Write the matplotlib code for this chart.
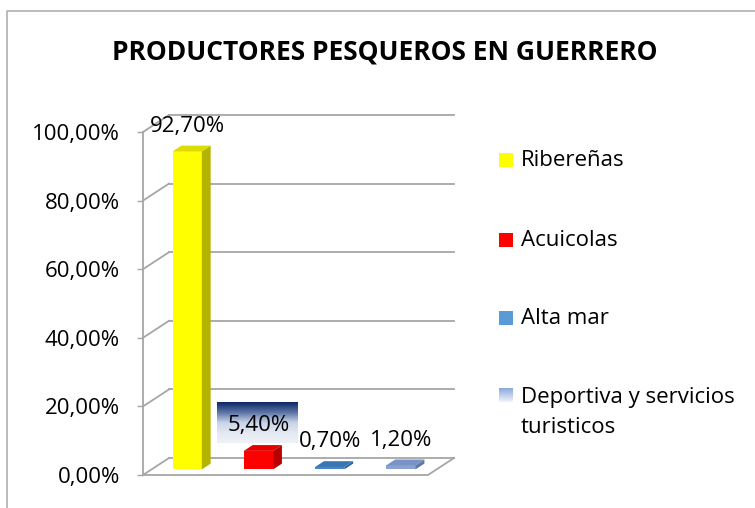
import matplotlib.pyplot as plt
import numpy as np
from matplotlib.colors import LinearSegmentedColormap
from matplotlib.lines import Line2D
from matplotlib.ticker import FuncFormatter

plt.rcParams["font.family"] = "Open Sans"
plt.rcParams["font.size"] = 16

title = 'PRODUCTORES PESQUEROS EN GUERRERO'
categories = ['Ribereñas', 'Acuicolas', 'Alta mar', 'Deportiva y servicios\nturisticos']
values = [92.7, 5.4, 0.7, 1.2]
labels = ['92,70%', '5,40%', '0,70%', '1,20%']
grid_values = [0, 20, 40, 60, 80, 100]

front_colors = ['#ffff00', '#ff0000', '#4a86c5', '#8aa2d2']
side_colors = ['#b3b300', '#b80000', '#2f6296', '#6079a8']
top_colors = ['#dcdc00', '#e60000', '#3b76b4', '#7a93c6']
legend_colors = ['#ffff00', '#ff0000', '#5b9bd5', None]

# oblique depth (full wall depth) in data units
DX = 0.365
DY = 4.96
W = 0.41
D0, D1 = 0.33, 0.67
grid_col = '#a6a6a6'


def proj(x, v, d):
    return x + d * DX, v + d * DY


fig = plt.figure(figsize=(7.55, 5.08), dpi=100)
ax = fig.add_axes([143 / 755, 33 / 508, 285 / 755, 343 / 508])
ax.set_xlim(-0.5, 3.5)
ax.set_ylim(0, 100)

# back wall grid + left wall diagonals
for g in grid_values:
    xa, ya = proj(-0.5, g, 1)
    xb, yb = proj(3.5, g, 1)
    ax.plot([xa, xb], [ya, yb], color=grid_col, lw=1.3, clip_on=False, zorder=1)
    xf, yf = proj(-0.5, g, 0)
    ax.plot([xf, xa], [yf, ya], color=grid_col, lw=1.3, clip_on=False, zorder=1)

# floor front and right edges
x0, y0 = proj(-0.5, 0, 0)
x1, y1 = proj(3.5, 0, 0)
x2, y2 = proj(3.5, 0, 1)
ax.plot([x0, x1, x2], [y0, y1, y2], color=grid_col, lw=1.3, clip_on=False, zorder=1)

# bars
for i, v in enumerate(values):
    cx = i + D0 * DX
    ax.bar(cx, v, width=W, bottom=D0 * DY, color=front_colors[i], zorder=3,
           clip_on=False, linewidth=0)
    side = [proj(i + W / 2, 0, D0), proj(i + W / 2, 0, D1),
            proj(i + W / 2, v, D1), proj(i + W / 2, v, D0)]
    top = [proj(i - W / 2, v, D0), proj(i + W / 2, v, D0),
           proj(i + W / 2, v, D1), proj(i - W / 2, v, D1)]
    ax.fill(*zip(*side), color=side_colors[i], zorder=3, clip_on=False, lw=0)
    ax.fill(*zip(*top), color=top_colors[i], zorder=3, clip_on=False, lw=0)

    bx, by = proj(i, v, D0)
    if i == 1:
        grad = LinearSegmentedColormap.from_list(
            'g', ['#0f2a66', '#5d74a6', '#c9d4e8', '#e3e9f3', '#eef2f8'])
        ax.imshow(np.linspace(0, 1, 50).reshape(-1, 1), cmap=grad, aspect='auto',
                  extent=(bx - 0.58, bx + 0.55, by + 2.3, by + 14), origin='upper',
                  zorder=4, clip_on=False)
    ax.annotate(labels[i], xy=(bx, by), xytext=(0, 18), textcoords='offset points',
                ha='center', va='center', fontsize=16, zorder=5)

ax.set_xlim(-0.5, 3.5)
ax.set_ylim(0, 100)
ax.set_xticks([])
ax.set_yticks(grid_values)
ax.yaxis.set_major_formatter(FuncFormatter(lambda v, p: f'{v:.2f}'.replace('.', ',') + '%'))
ax.tick_params(axis='y', direction='out', length=4.5, width=1, color=grid_col,
               pad=12, labelsize=16)
for s in ['top', 'right', 'bottom']:
    ax.spines[s].set_visible(False)
ax.spines['left'].set_color(grid_col)
ax.spines['left'].set_linewidth(1.3)
ax.patch.set_visible(False)

fig.text(0.51, 1 - 52 / 508, title, ha='center', va='center', fontsize=19,
         fontweight='bold')

# legend
leg_y = [160, 240, 318, 395]
for i, name in enumerate(categories):
    yc = leg_y[i]
    sq = fig.add_axes([499 / 755, 1 - (yc + 7) / 508, 14 / 755, 14 / 508])
    if legend_colors[i] is None:
        cm = LinearSegmentedColormap.from_list('l', ['#8fa8dc', '#eef3fb'])
        sq.imshow(np.linspace(0, 1, 20).reshape(-1, 1), cmap=cm, aspect='auto')
    else:
        sq.set_facecolor(legend_colors[i])
    sq.set_xticks([])
    sq.set_yticks([])
    for s in sq.spines.values():
        s.set_visible(False)
    if '\n' in name:
        fig.text(521 / 755, 1 - (yc - 8) / 508, name, ha='left', va='top',
                 fontsize=16, linespacing=1.55)
    else:
        fig.text(521 / 755, 1 - yc / 508, name, ha='left', va='center', fontsize=16)

# outer frame
fig.add_artist(Line2D([7 / 755, 7 / 755, 1], [0, 1 - 11 / 508, 1 - 11 / 508],
                      transform=fig.transFigure, color='#b0b0b0', lw=1.2))

fig.savefig('out.png', dpi=100)
